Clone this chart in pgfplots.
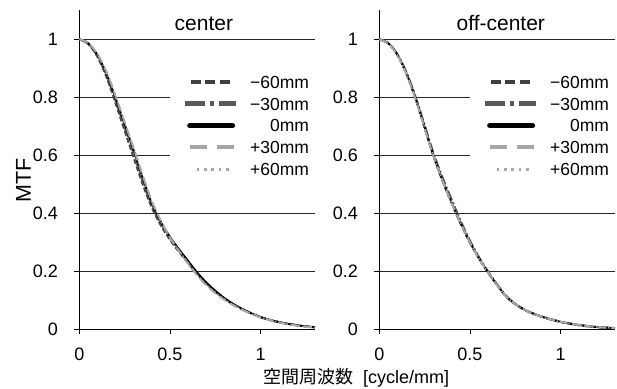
\documentclass[border=0pt]{standalone}
\usepackage{fontspec}
\setmainfont{Liberation Sans}
\newfontfamily\jp{Noto Sans CJK JP}
\usepackage{pgfplots}
\usepackage{pgfplotstable}
\pgfplotsset{compat=1.18}
\definecolor{cA}{HTML}{404040}
\definecolor{cB}{HTML}{595959}
\definecolor{cD}{HTML}{A6A6A6}
\definecolor{cE}{HTML}{A8A8A8}

\pgfplotstableread{
x    m60   m30   z     p30   p60
0.00 1.000 1.000 1.000 1.000 1.000
0.05 0.984 0.985 0.986 0.987 0.987
0.10 0.940 0.943 0.946 0.949 0.948
0.15 0.870 0.876 0.882 0.888 0.886
0.20 0.780 0.789 0.797 0.805 0.802
0.25 0.685 0.697 0.707 0.715 0.712
0.30 0.592 0.606 0.617 0.624 0.621
0.35 0.500 0.512 0.522 0.530 0.527
0.40 0.420 0.428 0.434 0.442 0.439
0.45 0.358 0.365 0.370 0.374 0.372
0.50 0.309 0.315 0.319 0.317 0.316
0.55 0.267 0.272 0.276 0.270 0.271
0.60 0.228 0.232 0.236 0.227 0.229
0.65 0.190 0.193 0.196 0.186 0.188
0.70 0.157 0.160 0.162 0.152 0.154
0.75 0.129 0.131 0.133 0.125 0.127
0.80 0.105 0.107 0.108 0.102 0.104
0.85 0.085 0.086 0.087 0.083 0.084
0.90 0.068 0.069 0.070 0.067 0.068
0.95 0.054 0.054 0.055 0.053 0.053
1.00 0.042 0.042 0.042 0.041 0.041
1.05 0.032 0.032 0.033 0.032 0.032
1.10 0.025 0.025 0.025 0.024 0.024
1.15 0.019 0.019 0.019 0.018 0.018
1.20 0.014 0.014 0.014 0.013 0.013
1.25 0.010 0.010 0.010 0.009 0.009
1.30 0.007 0.007 0.007 0.006 0.006
}\tabC

\pgfplotstableread{
x    m60   m30   z     p30   p60
0.00 1.000 1.000 1.000 1.000 1.000
0.05 0.986 0.986 0.986 0.985 0.985
0.10 0.946 0.948 0.947 0.945 0.946
0.15 0.880 0.885 0.882 0.879 0.881
0.20 0.794 0.801 0.797 0.793 0.795
0.25 0.694 0.703 0.697 0.693 0.695
0.30 0.594 0.605 0.597 0.594 0.596
0.35 0.509 0.521 0.512 0.510 0.511
0.40 0.433 0.445 0.436 0.434 0.435
0.45 0.362 0.372 0.365 0.364 0.364
0.50 0.298 0.305 0.300 0.299 0.299
0.55 0.243 0.248 0.245 0.244 0.244
0.60 0.195 0.199 0.196 0.196 0.195
0.65 0.152 0.155 0.153 0.153 0.152
0.70 0.112 0.115 0.113 0.113 0.113
0.75 0.086 0.088 0.087 0.087 0.087
0.80 0.067 0.068 0.068 0.068 0.067
0.85 0.053 0.054 0.054 0.054 0.053
0.90 0.042 0.043 0.043 0.043 0.042
0.95 0.033 0.034 0.034 0.034 0.033
1.00 0.025 0.026 0.026 0.026 0.026
1.05 0.019 0.020 0.020 0.020 0.020
1.10 0.014 0.015 0.015 0.015 0.015
1.15 0.010 0.011 0.011 0.011 0.011
1.20 0.007 0.008 0.008 0.008 0.008
1.25 0.005 0.006 0.006 0.006 0.006
1.30 0.003 0.004 0.004 0.004 0.004
}\tabO

\pgfplotsset{
  mtfaxis/.style={
    scale only axis, width=235.7bp, height=319bp,
    xmin=0, xmax=1.3, ymin=0, ymax=1.1,
    axis lines*=left,
    axis line style={black, line width=0.9bp},
    xtick={0,0.5,1}, ytick={0,0.2,0.4,0.6,0.8,1},
    ymajorgrids, grid style={black!85, line width=0.8bp},
    tick align=outside, major tick length=5bp,
    tick style={black, line width=0.8bp},
    /pgf/number format/assume math mode=true,
    tick label style={font=\fontsize{18bp}{20bp}\selectfont},
    yticklabel style={anchor=east, inner sep=0pt, xshift=-16.3bp},
    xticklabel style={anchor=north, inner sep=0pt, yshift=-13.5bp},
    legend style={at={(0.3846,0.82)}, anchor=north west, draw=none, fill=white,
      inner xsep=12bp, inner ysep=8bp, row sep=9.25bp, column sep=12bp,
      font=\fontsize{17.5bp}{19bp}\selectfont,
      nodes={inner sep=0pt, text height=12.5bp, text depth=0pt}},
    legend cell align=right,
  },
  sA/.style={cA, line width=2bp, dash pattern=on 5bp off 2.5bp},
  sB/.style={cB, line width=2.2bp, dash pattern=on 10bp off 2.5bp on 2bp off 2.5bp},
  sC/.style={black, line width=1.8bp},
  sD/.style={cD, line width=2bp, dash pattern=on 8bp off 5bp},
  sE/.style={cE, line width=1.5bp, dash pattern=on 1.5bp off 2.5bp},
}

\newcommand\mtflegend{%
  \addlegendimage{legend image code/.code={\path[draw=none, fill=none] (0bp,-3bp) rectangle (51bp,3bp); \draw[cA, line width=4bp, dash pattern=on 10bp off 4.5bp] (6bp,0bp) -- (45bp,0bp);}}
  \addlegendentry{−60mm}
  \addlegendimage{legend image code/.code={\path[draw=none, fill=none] (0bp,-3bp) rectangle (51bp,3bp); \draw[cB, line width=5bp, dash pattern=on 20bp off 5bp on 4bp off 5bp] (0bp,0bp) -- (51bp,0bp);}}
  \addlegendentry{−30mm}
  \addlegendimage{legend image code/.code={\path[draw=none, fill=none] (0bp,-3bp) rectangle (51bp,3bp); \draw[black, line width=5bp, line cap=round] (5bp,0bp) -- (48bp,0bp);}}
  \addlegendentry{0mm}
  \addlegendimage{legend image code/.code={\path[draw=none, fill=none] (0bp,-3bp) rectangle (51bp,3bp); \draw[cD, line width=4bp, dash pattern=on 17bp off 10bp] (5bp,0bp) -- (49bp,0bp);}}
  \addlegendentry{+30mm}
  \addlegendimage{legend image code/.code={\path[draw=none, fill=none] (0bp,-3bp) rectangle (51bp,3bp); \draw[cE, line width=2.8bp, dash pattern=on 2.8bp off 4.5bp] (12bp,0bp) -- (46bp,0bp);}}
  \addlegendentry{+60mm}
}

\begin{document}
\begin{tikzpicture}
\begin{axis}[mtfaxis, at={(79.3bp,-329.3bp)}, anchor=south west]
  \addplot[sA, smooth, forget plot] table[x=x, y=m60] {\tabC};
  \addplot[sB, smooth, forget plot] table[x=x, y=m30] {\tabC};
  \addplot[sC, smooth, forget plot] table[x=x, y=z] {\tabC};
  \addplot[sD, smooth, forget plot] table[x=x, y=p30] {\tabC};
  \addplot[sE, smooth, forget plot] table[x=x, y=p60] {\tabC};
  \mtflegend
  \node[anchor=base, inner sep=0pt, font=\fontsize{21bp}{23bp}\selectfont] at (axis cs:0.687,1.032) {center};
\end{axis}
\begin{axis}[mtfaxis, at={(379.3bp,-329.3bp)}, anchor=south west]
  \addplot[sA, smooth, forget plot] table[x=x, y=m60] {\tabO};
  \addplot[sB, smooth, forget plot] table[x=x, y=m30] {\tabO};
  \addplot[sC, smooth, forget plot] table[x=x, y=z] {\tabO};
  \addplot[sD, smooth, forget plot] table[x=x, y=p30] {\tabO};
  \addplot[sE, smooth, forget plot] table[x=x, y=p60] {\tabO};
  \mtflegend
  \node[anchor=base, inner sep=0pt, font=\fontsize{21bp}{23bp}\selectfont] at (axis cs:0.670,1.032) {off-center};
\end{axis}
\node[rotate=90, anchor=center, inner sep=0pt, font=\fontsize{21.5bp}{23bp}\selectfont] at (23.4bp,-180bp) {MTF};
\node[anchor=base west, inner sep=0pt, font=\fontsize{18bp}{20bp}\selectfont] at (263bp,-383bp) {{\jp 空間周波数}\hspace{10bp}[cycle/mm]};
\pgfresetboundingbox
\useasboundingbox (0bp,0bp) rectangle (617bp,-389bp);
\end{tikzpicture}
\end{document}
